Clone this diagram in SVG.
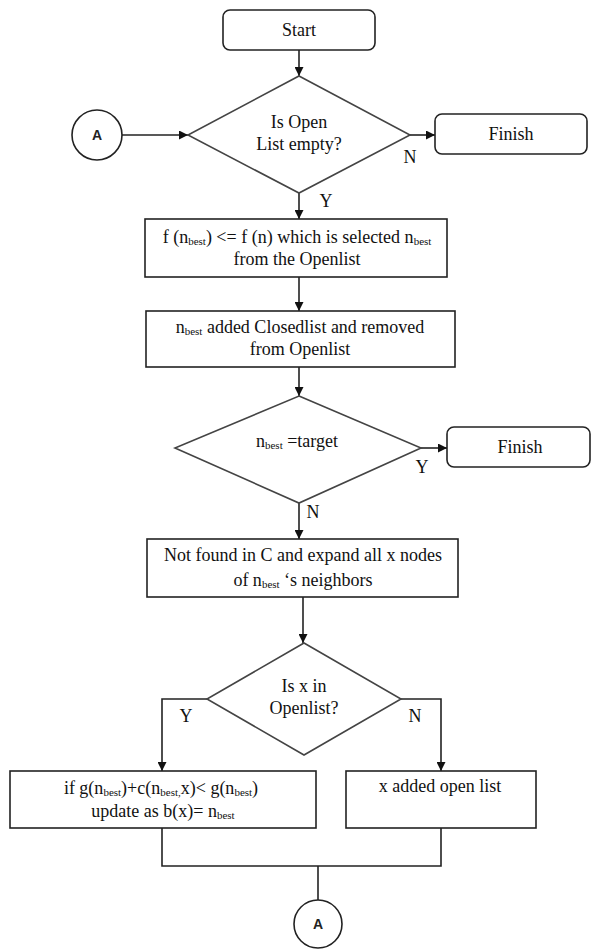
<svg xmlns="http://www.w3.org/2000/svg" width="595" height="950" viewBox="0 0 595 950">
<style>
.box{fill:#fff;stroke:#222;stroke-width:1.6}
.dia{fill:#fff;stroke:#444;stroke-width:1.6}
.ln{fill:none;stroke:#222;stroke-width:1.6}
.t{font-family:"Liberation Serif","Times New Roman",serif;font-size:18px;fill:#111;text-anchor:middle}
.sub{font-size:11px}
.c{font-family:"Liberation Sans",Arial,sans-serif;font-size:14px;font-weight:bold;fill:#222;text-anchor:middle}
</style>
<defs>
<marker id="arr" viewBox="0 0 10 10" refX="10" refY="5" markerWidth="9" markerHeight="9" markerUnits="userSpaceOnUse" orient="auto">
<path d="M0,0 L10,5 L0,10 z" fill="#111"/>
</marker>
</defs>
<rect width="595" height="950" fill="#fff"/>
<g id="connectors">
<line class="ln" x1="299" y1="50" x2="299" y2="76" marker-end="url(#arr)"/>
<line class="ln" x1="122" y1="135" x2="188" y2="135" marker-end="url(#arr)"/>
<line class="ln" x1="410" y1="135" x2="435" y2="135" marker-end="url(#arr)"/>
<line class="ln" x1="299" y1="193" x2="299" y2="219" marker-end="url(#arr)"/>
<line class="ln" x1="299" y1="277" x2="299" y2="311" marker-end="url(#arr)"/>
<line class="ln" x1="299" y1="367" x2="299" y2="396" marker-end="url(#arr)"/>
<line class="ln" x1="421" y1="448" x2="447" y2="448" marker-end="url(#arr)"/>
<line class="ln" x1="299" y1="503" x2="299" y2="539" marker-end="url(#arr)"/>
<line class="ln" x1="303" y1="597" x2="303" y2="643" marker-end="url(#arr)"/>
<polyline class="ln" points="207,699 162,699 162,771" marker-end="url(#arr)"/>
<polyline class="ln" points="401,699 441,699 441,771" marker-end="url(#arr)"/>
<polyline class="ln" points="162,828 162,866 441,866 441,828"/>
<line class="ln" x1="318" y1="866" x2="318" y2="900"/>
<text class="t" x="410" y="163">N</text>
<text class="t" x="326" y="207">Y</text>
<text class="t" x="422" y="473">Y</text>
<text class="t" x="313" y="518">N</text>
<text class="t" x="186" y="722">Y</text>
<text class="t" x="415" y="722">N</text>
</g>
<g id="start">
<rect class="box" x="223" y="10" width="152" height="40" rx="7"/>
<text class="t" x="299" y="36">Start</text>
</g>
<g id="open-empty">
<polygon class="dia" points="299,76 410,135 299,193 188,135"/>
<text class="t" x="299" y="128">Is Open</text>
<text class="t" x="299" y="150">List empty?</text>
</g>
<g id="connector-a-top">
<circle class="box" cx="97" cy="135" r="25"/>
<text class="c" x="97" y="140">A</text>
</g>
<g id="finish1">
<rect class="box" x="435" y="114" width="152" height="40" rx="7"/>
<text class="t" x="511" y="140">Finish</text>
</g>
<g id="select-best">
<rect class="box" x="145" y="219" width="302" height="58"/>
<text class="t" x="297" y="243">f (n<tspan class="sub" dy="2">best</tspan><tspan dy="-2">) &lt;= f (n) which is selected n</tspan><tspan class="sub" dy="2">best</tspan></text>
<text class="t" x="297" y="265">from the Openlist</text>
</g>
<g id="closed-add">
<rect class="box" x="146" y="311" width="309" height="56"/>
<text class="t" x="300" y="333">n<tspan class="sub" dy="2">best</tspan><tspan dy="-2"> added Closedlist and removed</tspan></text>
<text class="t" x="300" y="355">from Openlist</text>
</g>
<g id="target">
<polygon class="dia" points="299,396 421,448 299,503 175,448"/>
<text class="t" x="297" y="447">n<tspan class="sub" dy="2">best</tspan><tspan dy="-2"> =target</tspan></text>
</g>
<g id="finish2">
<rect class="box" x="447" y="427" width="143" height="40" rx="7"/>
<text class="t" x="520" y="453">Finish</text>
</g>
<g id="expand">
<rect class="box" x="147" y="539" width="311" height="58"/>
<text class="t" x="303" y="561">Not found in C and expand all x nodes</text>
<text class="t" x="303" y="586">of  n<tspan class="sub" dy="2">best</tspan><tspan dy="-2"> ‘s neighbors</tspan></text>
</g>
<g id="in-open">
<polygon class="dia" points="304,643 401,699 304,755 207,699"/>
<text class="t" x="304" y="692">Is x  in</text>
<text class="t" x="304" y="714">Openlist?</text>
</g>
<g id="update">
<rect class="box" x="10" y="771" width="306" height="57"/>
<text class="t" x="161" y="794">if g(n<tspan class="sub" dy="2">best</tspan><tspan dy="-2">)+c(n</tspan><tspan class="sub" dy="2">best,</tspan><tspan dy="-2">x)&lt; g(n</tspan><tspan class="sub" dy="2">best</tspan><tspan dy="-2">)</tspan></text>
<text class="t" x="163" y="817">update as b(x)= n<tspan class="sub" dy="2">best</tspan></text>
</g>
<g id="add-open">
<rect class="box" x="346" y="771" width="190" height="57"/>
<text class="t" x="440" y="792">x added open list</text>
</g>
<g id="connector-a-bottom">
<circle class="box" cx="318" cy="924" r="24"/>
<text class="c" x="318" y="929">A</text>
</g>
</svg>
